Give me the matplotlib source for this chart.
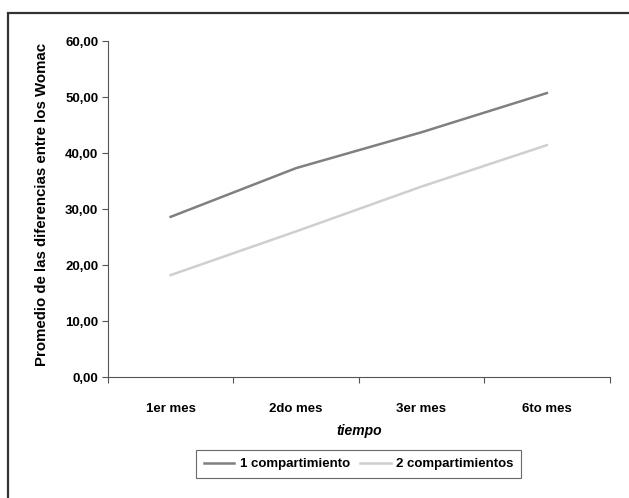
import matplotlib
matplotlib.use("Agg")
from matplotlib import pyplot as plt
from matplotlib.patches import Rectangle
from matplotlib.ticker import FuncFormatter
import numpy as np

# datos
meses = ['1er mes', '2do mes', '3er mes', '6to mes']
un_comp = [28.6, 37.3, 43.7, 50.7]
dos_comp = [18.2, 26.0, 34.0, 41.4]

plt.rcParams['font.family'] = ['Liberation Sans', 'DejaVu Sans']
plt.rcParams['font.weight'] = 'bold'

fig = plt.figure(figsize=(6.29, 4.98), dpi=100)
fig.patch.set_facecolor('white')

# marco exterior
fig.patches.append(Rectangle((8/629, -0.1), 1.2, (498-13)/498 + 0.1,
                             transform=fig.transFigure, fill=False,
                             edgecolor='#333333', linewidth=1.6))

ax = fig.add_axes([108/629, (498-377)/498, (609.5-108)/629, (377-41)/498])
x = np.arange(len(meses))
ax.plot(x, un_comp, color='#808080', linewidth=1.8, label='1 compartimiento')
ax.plot(x, dos_comp, color='#cfcfcf', linewidth=1.8, label='2 compartimientos')

ax.set_xlim(-0.5, len(meses) - 0.5)
ax.set_ylim(0, 60)
ax.set_yticks(np.arange(0, 61, 10))
ax.yaxis.set_major_formatter(FuncFormatter(lambda v, p: f"{v:.2f}".replace('.', ',')))
ax.set_xticks(np.arange(-0.5, len(meses), 1.0))
ax.set_xticklabels([])
ax.set_xticks(x, minor=True)
ax.set_xticklabels(meses, minor=True)
ax.tick_params(axis='x', which='minor', length=0, pad=19, labelsize=9.5)
ax.tick_params(axis='x', which='major', length=4, width=0.8, color='#555555')
ax.tick_params(axis='y', length=4, width=0.8, color='#555555', labelsize=9.5, pad=3)

for s in ['top', 'right']:
    ax.spines[s].set_visible(False)
ax.spines['left'].set_color('#555555')
ax.spines['bottom'].set_color('#555555')

ax.set_xlabel('tiempo', fontsize=10, fontweight='bold', style='italic', labelpad=6)
ax.set_ylabel('Promedio de las diferencias entre los Womac', fontsize=10.8,
              fontweight='bold')
ax.yaxis.set_label_coords(-0.118, 0.515)

leg = ax.legend(loc='center', bbox_to_anchor=(0.5, (377-464)/336), ncol=2,
                frameon=True, fancybox=False, edgecolor='#444444',
                prop={'size': 9.5, 'weight': 'bold'}, handlelength=2.3,
                columnspacing=0.8, borderpad=0.6, handletextpad=0.4)
leg.get_frame().set_linewidth(0.8)

fig.savefig('out.png', dpi=100)
